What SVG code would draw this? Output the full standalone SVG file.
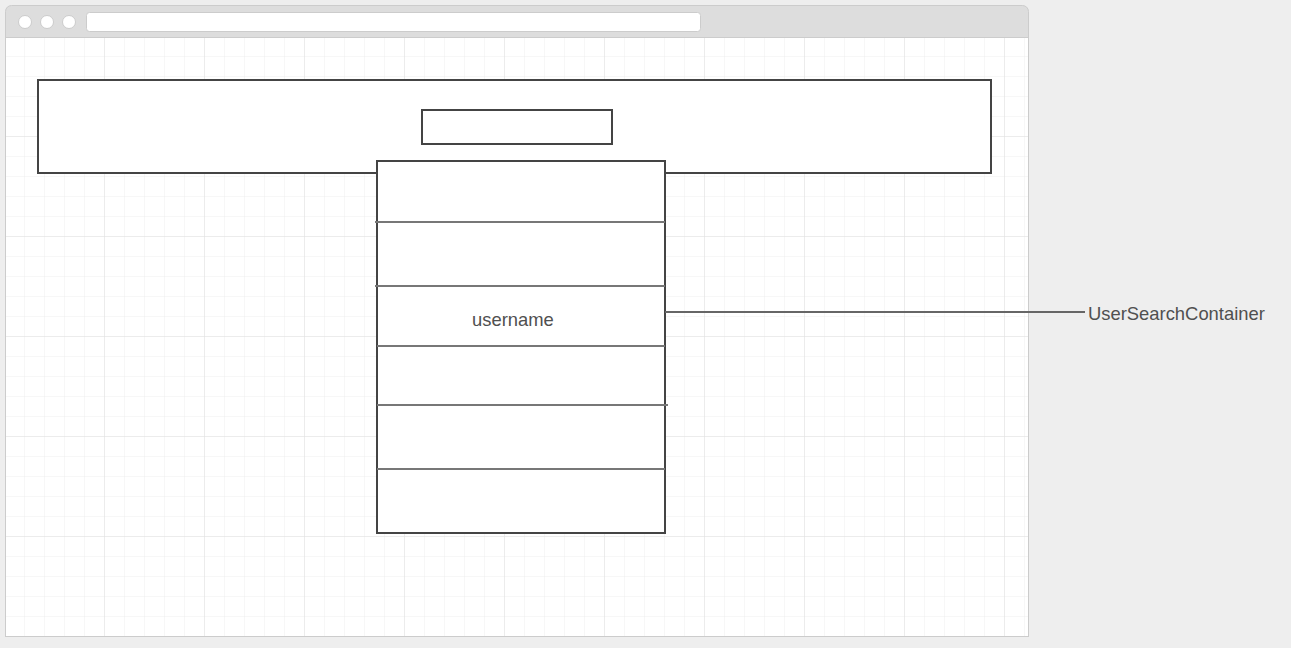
<svg xmlns="http://www.w3.org/2000/svg" width="1291" height="648" viewBox="0 0 1291 648">
<defs>
<pattern id="minor" x="5" y="37" width="20" height="20" patternUnits="userSpaceOnUse">
<path d="M20 0V20M0 20H20" fill="none" stroke="#eeeeee" stroke-width="1"/>
</pattern>
<pattern id="major" x="5" y="37" width="100" height="100" patternUnits="userSpaceOnUse">
<path d="M100 0V100M0 100H100" fill="none" stroke="#e0e0e0" stroke-width="1"/>
</pattern>
</defs>
<style>
.box{fill:#fff;stroke:#444;stroke-width:2}
.div{stroke:#777;stroke-width:2}
.lbl{font-family:"Liberation Sans",Arial,sans-serif;font-size:18.4px;fill:#505050}
.dot{fill:#fff;stroke:#ccc;stroke-width:1}
</style>
<rect width="1291" height="648" fill="#eeeeee"/>
<g id="window">
<path d="M5.5 636.5V11.5a6 6 0 0 1 6-6H1022.5a6 6 0 0 1 6 6V636.5Z" fill="#dddddd" stroke="#cccccc"/>
<rect x="6" y="38" width="1022" height="598" fill="#fff"/>
<rect x="6" y="38" width="1022" height="598" fill="url(#minor)"/>
<rect x="6" y="38" width="1022" height="598" fill="url(#major)"/>
<line x1="5" y1="37.5" x2="1028" y2="37.5" stroke="#cccccc"/>
<line x1="5" y1="636.5" x2="1029" y2="636.5" stroke="#cccccc"/>
<circle class="dot" cx="25" cy="22" r="6.5"/>
<circle class="dot" cx="47" cy="22" r="6.5"/>
<circle class="dot" cx="69" cy="22" r="6.5"/>
<rect x="86.5" y="12.5" width="614" height="19" rx="3" fill="#fff" stroke="#cccccc"/>
</g>
<g id="header">
<rect class="box" x="38" y="80" width="953" height="93"/>
</g>
<g id="search">
<rect class="box" x="422" y="110" width="190" height="34"/>
</g>
<g id="list">
<rect class="box" x="377" y="161" width="288" height="372"/>
<line class="div" x1="375" y1="222" x2="665" y2="222"/>
<line class="div" x1="375" y1="286" x2="665" y2="286"/>
<line class="div" x1="377" y1="346" x2="665" y2="346"/>
<line class="div" x1="377" y1="405" x2="668" y2="405"/>
<line class="div" x1="377" y1="469" x2="665" y2="469"/>
<text class="lbl" x="472" y="326">username</text>
</g>
<g id="connectors">
<line x1="665" y1="312" x2="1085" y2="312" stroke="#666" stroke-width="2"/>
</g>
<g id="annotation">
<text class="lbl" x="1088" y="319.5">UserSearchContainer</text>
</g>
</svg>
